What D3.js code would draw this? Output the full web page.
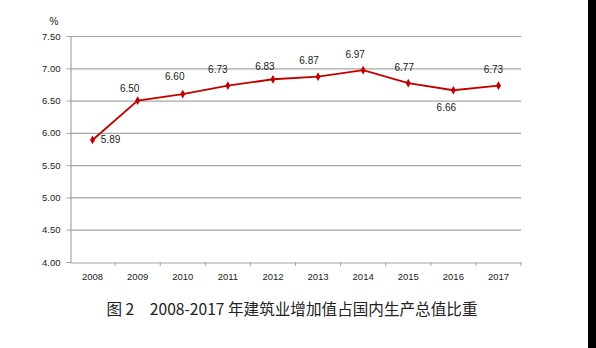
<!DOCTYPE html>
<html><head><meta charset="utf-8">
<script src="https://cdn.jsdelivr.net/npm/d3@7"></script>
<style>body{margin:0;background:#fff}svg{display:block}</style>
</head><body>
<script>
const years = ["2008","2009","2010","2011","2012","2013","2014","2015","2016","2017"];
const values = [5.89,6.50,6.60,6.73,6.83,6.87,6.97,6.77,6.66,6.73];
const yTicks = [4.00,4.50,5.00,5.50,6.00,6.50,7.00,7.50];
// label offsets (dx, dy) relative to each point
const labelDx = [18,-8,-8,-10,-8,-9,-8,-4,-7,-5];
const labelDy = [3,-9,-14,-13,-9,-13,-12,-12,21,-13];

const W=596,H=348;
const svg=d3.select("body").append("svg").attr("width",W).attr("height",H);
const m={l:70,r:521,t:36,b:262};
const x=d3.scaleBand().domain(years).range([m.l,m.r]);
const y=d3.scaleLinear().domain([4,7.5]).range([m.b,m.t]);
const font="'Liberation Sans', 'DejaVu Sans', sans-serif";

// gridlines
svg.append("g").selectAll("line").data(yTicks.filter(d=>d>4)).join("line")
  .attr("x1",m.l).attr("x2",m.r).attr("y1",d=>y(d)+0.5).attr("y2",d=>y(d)+0.5)
  .attr("stroke","#a6a6a6").attr("stroke-width",1.2);

// y axis
const ya=svg.append("g").attr("transform",`translate(${m.l+0.5},0)`)
  .call(d3.axisLeft(y).tickValues(yTicks).tickFormat(d3.format(".2f")).tickSize(4).tickPadding(6));
ya.select(".domain").attr("stroke","#a6a6a6").attr("stroke-width",1.2);
ya.selectAll(".tick line").attr("stroke","#a6a6a6");
ya.selectAll("text").attr("font-family",font).attr("font-size",9.5).attr("fill","#222");

// x axis
const xa=svg.append("g").attr("transform",`translate(0,${m.b+0.5})`)
  .call(d3.axisBottom(x).tickSize(0).tickPadding(11));
xa.select(".domain").attr("stroke","#a6a6a6").attr("stroke-width",1.2);
xa.selectAll("text").attr("font-family",font).attr("font-size",9.5).attr("fill","#222");
// tick marks between categories
svg.append("g").selectAll("line").data(years).join("line")
  .attr("x1",d=>x(d)+x.bandwidth()).attr("x2",d=>x(d)+x.bandwidth())
  .attr("y1",m.b).attr("y2",m.b+4).attr("stroke","#a6a6a6");

// % label
svg.append("text").attr("x",54).attr("y",25).attr("text-anchor","middle")
  .attr("font-family",font).attr("font-size",10).attr("fill","#222").text("%");

// line
const cx=d=>x(d)+x.bandwidth()/2;
svg.append("path").datum(values)
  .attr("fill","none").attr("stroke","#c00000").attr("stroke-width",1.8)
  .attr("d",d3.line().x((d,i)=>cx(years[i])).y(d=>y(d)));
svg.append("g").selectAll("path").data(values).join("path")
  .attr("transform",(d,i)=>`translate(${cx(years[i])},${y(d)})`)
  .attr("d",d3.symbol().type(d3.symbolDiamond).size(22))
  .attr("fill","#c00000");

// data labels
svg.append("g").selectAll("text").data(values).join("text")
  .attr("x",(d,i)=>cx(years[i])+labelDx[i]).attr("y",(d,i)=>y(d)+labelDy[i])
  .attr("text-anchor","middle").attr("font-family",font).attr("font-size",10).attr("fill","#222")
  .text(d=>d.toFixed(2));

// title
svg.append("text").attr("x",292).attr("y",315).attr("text-anchor","middle")
  .attr("font-family","'Noto Sans CJK SC', sans-serif").attr("font-size",15.6).attr("fill","#222")
  .text("图 2　2008-2017 年建筑业增加值占国内生产总值比重");

// right black edge
svg.append("rect").attr("x",588).attr("y",0).attr("width",8).attr("height",H).attr("fill","#000");
</script>
</body></html>
